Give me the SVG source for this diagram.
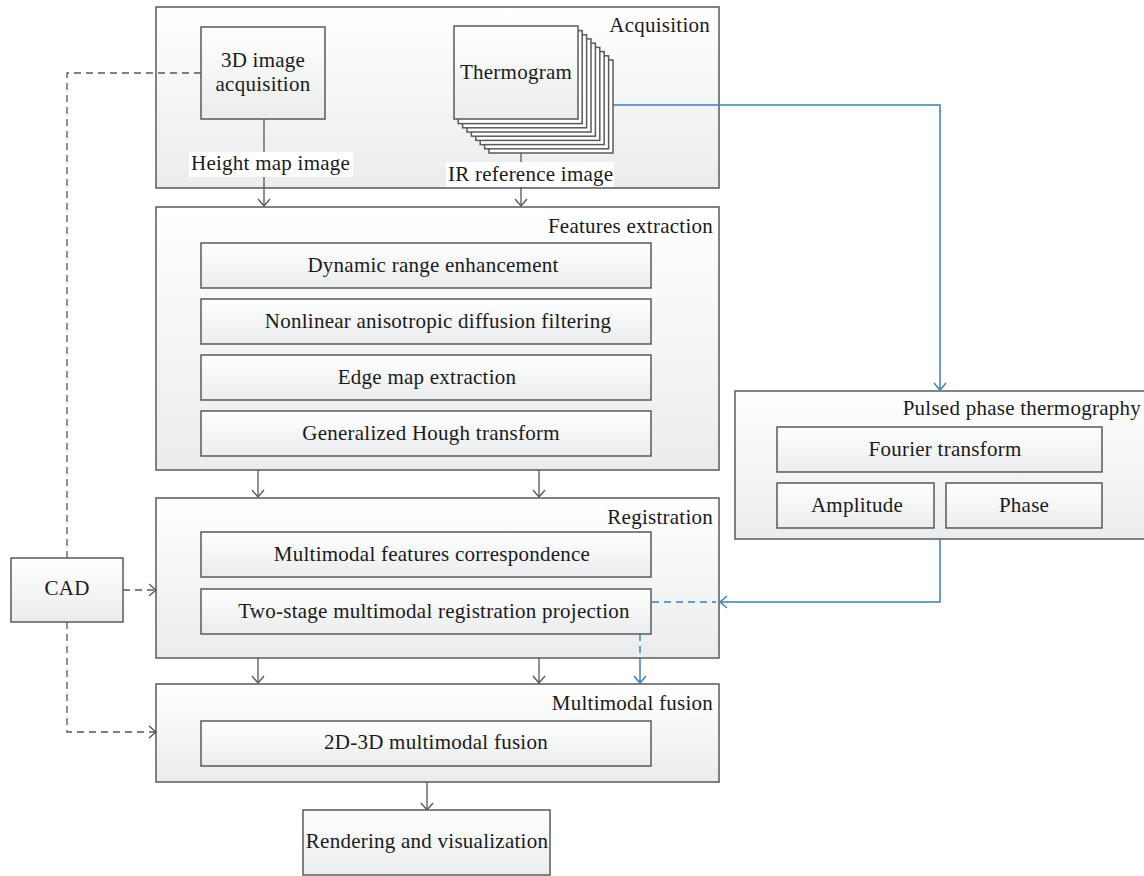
<svg xmlns="http://www.w3.org/2000/svg" width="1144" height="876" viewBox="0 0 1144 876" font-family="'Liberation Serif', 'DejaVu Serif', serif">
<style>
text{font-family:'Liberation Serif','DejaVu Serif',serif;font-size:21px;letter-spacing:0.25px;fill:#1a1a1a}
.c{text-anchor:middle}
.e{text-anchor:end}
.box{fill:url(#g);stroke:#5a5a5a;stroke-width:1.5}
.layer{fill:#ffffff;stroke:#5a5a5a;stroke-width:1.5}
.ln{fill:none;stroke:#555;stroke-width:1.3}
.dash{fill:none;stroke:#555;stroke-width:1.3;stroke-dasharray:7 5}
.bl{fill:none;stroke:#3a7fc2;stroke-width:1.5}
.bld{fill:none;stroke:#3a7fc2;stroke-width:1.5;stroke-dasharray:7 5}
.lab{fill:#ffffff}
</style>
<defs>
<linearGradient id="g" x1="0" y1="0" x2="0" y2="1">
<stop offset="0" stop-color="#ffffff"/>
<stop offset="1" stop-color="#eaeced"/>
</linearGradient>
<marker id="ah" markerUnits="userSpaceOnUse" viewBox="-9 -8 11 16" refX="0" refY="0" markerWidth="11" markerHeight="16" orient="auto">
<path d="M-7,-6 L0,0 L-7,6" fill="none" stroke="#555" stroke-width="1.3"/>
</marker>
<marker id="ahb" markerUnits="userSpaceOnUse" viewBox="-9 -8 11 16" refX="0" refY="0" markerWidth="11" markerHeight="16" orient="auto">
<path d="M-7,-6 L0,0 L-7,6" fill="none" stroke="#3a7fc2" stroke-width="1.5"/>
</marker>
</defs>
<rect width="1144" height="876" fill="#ffffff"/>

<g id="acquisition">
<rect class="box" x="156" y="7" width="563" height="181"/>
<text class="e" x="710" y="32">Acquisition</text>
</g>

<g id="features-extraction">
<rect class="box" x="156" y="207" width="563" height="263"/>
<text class="e" x="713" y="233">Features extraction</text>
</g>

<g id="registration">
<rect class="box" x="156" y="498" width="563" height="160"/>
<text class="e" x="713" y="524">Registration</text>
</g>

<g id="multimodal-fusion">
<rect class="box" x="156" y="684" width="563" height="98"/>
<text class="e" x="713" y="710">Multimodal fusion</text>
</g>

<g id="pulsed-phase-thermography">
<rect class="box" x="735" y="391" width="420" height="148"/>
<text class="e" x="1141" y="415">Pulsed phase thermography</text>
</g>

<g id="connectors">
<path class="ln" d="M264,119 V206" marker-end="url(#ah)"/>
<path class="ln" d="M521,153 V206" marker-end="url(#ah)"/>
<path class="ln" d="M258,470 V497" marker-end="url(#ah)"/>
<path class="ln" d="M539,470 V497" marker-end="url(#ah)"/>
<path class="ln" d="M258,658 V683" marker-end="url(#ah)"/>
<path class="ln" d="M539,658 V683" marker-end="url(#ah)"/>
<path class="ln" d="M427,782 V810" marker-end="url(#ah)"/>
<path class="dash" d="M67,558 V73 H201"/>
<path class="dash" d="M123,590 H156" marker-end="url(#ah)"/>
<path class="dash" d="M67,622 V732 H156" marker-end="url(#ah)"/>
<path class="bl" d="M613,105 H940 V390" marker-end="url(#ahb)"/>
<path class="bl" d="M940,539 V602 H720" marker-end="url(#ahb)"/>
<path class="bld" d="M652,602 H716"/>
<path class="bld" d="M640,634 V658"/>
<path class="bl" d="M640,658 V683" marker-end="url(#ahb)"/>
</g>

<g id="height-map-label">
<rect class="lab" x="189" y="152" width="164" height="25"/>
<text x="191" y="170">Height map image</text>
</g>

<g id="ir-reference-label">
<rect class="lab" x="446" y="162" width="168" height="25"/>
<text x="448" y="181">IR reference image</text>
</g>

<g id="image-3d-acquisition">
<rect class="box" x="201" y="27" width="124" height="92"/>
<text class="c" x="263" y="67">3D image</text>
<text class="c" x="263" y="91">acquisition</text>
</g>

<g id="thermogram">
<rect class="layer" x="489" y="60" width="124" height="93"/>
<rect class="layer" x="484.6" y="55.8" width="124" height="93"/>
<rect class="layer" x="480.2" y="51.6" width="124" height="93"/>
<rect class="layer" x="475.8" y="47.4" width="124" height="93"/>
<rect class="layer" x="471.4" y="43.2" width="124" height="93"/>
<rect class="layer" x="467" y="39" width="124" height="93"/>
<rect class="layer" x="462.6" y="34.8" width="124" height="93"/>
<rect class="layer" x="458.2" y="30.6" width="124" height="93"/>
<rect class="box" x="454" y="26" width="124" height="93"/>
<text class="c" x="516" y="79">Thermogram</text>
</g>

<g id="dynamic-range">
<rect class="box" x="201" y="243" width="450" height="45"/>
<text class="c" x="433" y="272">Dynamic range enhancement</text>
</g>
<g id="nonlinear-diffusion">
<rect class="box" x="201" y="299" width="450" height="45"/>
<text class="c" x="438" y="328">Nonlinear anisotropic diffusion filtering</text>
</g>
<g id="edge-map">
<rect class="box" x="201" y="355" width="450" height="45"/>
<text class="c" x="427" y="384">Edge map extraction</text>
</g>
<g id="hough">
<rect class="box" x="201" y="411" width="450" height="45"/>
<text class="c" x="431" y="440">Generalized Hough transform</text>
</g>

<g id="features-correspondence">
<rect class="box" x="201" y="532" width="450" height="45"/>
<text class="c" x="432" y="561">Multimodal features correspondence</text>
</g>
<g id="registration-projection">
<rect class="box" x="201" y="589" width="450" height="45"/>
<text class="c" x="434" y="618">Two-stage multimodal registration projection</text>
</g>

<g id="fusion-2d3d">
<rect class="box" x="201" y="721" width="450" height="45"/>
<text class="c" x="436" y="749">2D-3D multimodal fusion</text>
</g>

<g id="rendering">
<rect class="box" x="303" y="810" width="247" height="65"/>
<text class="c" x="427" y="848">Rendering and visualization</text>
</g>

<g id="cad">
<rect class="box" x="11" y="558" width="112" height="64"/>
<text class="c" x="67" y="595">CAD</text>
</g>

<g id="fourier">
<rect class="box" x="777" y="427" width="325" height="45"/>
<text class="c" x="945" y="456">Fourier transform</text>
</g>
<g id="amplitude">
<rect class="box" x="777" y="483" width="157" height="45"/>
<text class="c" x="857" y="512">Amplitude</text>
</g>
<g id="phase">
<rect class="box" x="946" y="483" width="156" height="45"/>
<text class="c" x="1024" y="512">Phase</text>
</g>
</svg>
